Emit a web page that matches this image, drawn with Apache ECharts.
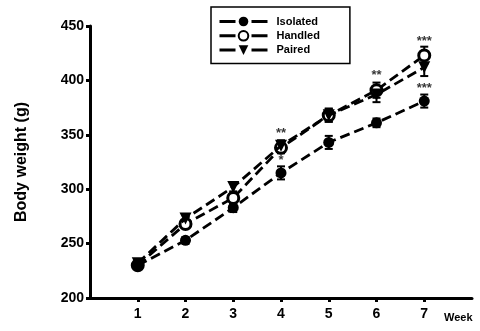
<!DOCTYPE html>
<html>
<head>
<meta charset="utf-8">
<script src="https://cdn.jsdelivr.net/npm/echarts@6/dist/echarts.min.js"></script>
<style>
  html, body { margin: 0; padding: 0; background: #fff; }
  #chart { width: 480px; height: 331px; }
</style>
</head>
<body>
<div id="chart"></div>
<script>
var weeks = [1, 2, 3, 4, 5, 6, 7];
var isolated = [230, 253, 283, 315, 343, 361, 381];
var isolatedErr = [3, 3, 4, 6, 6, 4, 6];
var handled = [230, 268, 292, 338, 368, 391, 423];
var handledErr = [3, 4, 5, 5, 6, 7, 8];
var paired = [232, 273, 302, 340, 368, 387, 412];
var pairedErr = [3, 4, 4, 5, 6, 7, 8];
var starWeeks = [4, 4, 6, 7, 7];
var starValues = [351, 326, 405, 436, 393];
var starTexts = ['**', '*', '**', '***', '***'];

var font = '"Liberation Sans", Arial, sans-serif';

function pairs(vals) {
  return weeks.map(function (w, i) { return [w, vals[i]]; });
}
function errData(vals, errs) {
  return weeks.map(function (w, i) { return [w, vals[i] - errs[i], vals[i] + errs[i]]; });
}
function errSeries(vals, errs) {
  return {
    type: 'custom',
    data: errData(vals, errs),
    z: 1,
    silent: true,
    renderItem: function (params, api) {
      var lo = api.coord([api.value(0), api.value(1)]);
      var hi = api.coord([api.value(0), api.value(2)]);
      var w = 4;
      var st = { stroke: '#000', lineWidth: 2 };
      return {
        type: 'group',
        children: [
          { type: 'line', shape: { x1: lo[0], y1: lo[1], x2: hi[0], y2: hi[1] }, style: st },
          { type: 'line', shape: { x1: lo[0] - w, y1: lo[1], x2: lo[0] + w, y2: lo[1] }, style: st },
          { type: 'line', shape: { x1: hi[0] - w, y1: hi[1], x2: hi[0] + w, y2: hi[1] }, style: st }
        ]
      };
    }
  };
}
function lineSeries(name, vals, symbol, fill, rotate, z) {
  return {
    name: name,
    type: 'line',
    data: pairs(vals),
    z: z,
    symbol: symbol,
    symbolSize: symbol === 'triangle' ? 12 : 11,
    symbolRotate: rotate || 0,
    showAllSymbol: true,
    lineStyle: { color: '#000', width: 2.8, type: [10, 5] },
    itemStyle: { color: fill, borderColor: '#000', borderWidth: fill === '#fff' ? 3 : 0 }
  };
}

var chart = echarts.init(document.getElementById('chart'), null, { renderer: 'canvas' });

var option = {
  animation: false,
  backgroundColor: '#fff',
  grid: { left: 90, right: 8, top: 26, bottom: 33 },
  legend: {
    orient: 'vertical',
    left: 211,
    top: 7,
    padding: [9, 30, 8, 7],
    itemGap: 3,
    itemWidth: 48,
    itemHeight: 12,
    borderColor: '#000',
    borderWidth: 1.5,
    lineStyle: { type: [16, 16], width: 3 },
    data: ['Isolated', 'Handled', 'Paired'],
    textStyle: { fontFamily: font, fontWeight: 'bold', fontSize: 11, color: '#000', padding: [0, 0, 0, 4] }
  },
  xAxis: {
    type: 'value',
    min: 0,
    max: 8,
    interval: 1,
    splitLine: { show: false },
    axisLine: { show: true, lineStyle: { color: '#000', width: 3 } },
    axisTick: { show: true, length: 4, lineStyle: { color: '#000', width: 3 }, customValues: weeks },
    axisLabel: { fontFamily: font, fontWeight: 'bold', fontSize: 14, color: '#000', margin: 9, customValues: weeks }
  },
  yAxis: {
    type: 'value',
    min: 200,
    max: 450,
    interval: 50,
    name: 'Body weight (g)',
    nameLocation: 'middle',
    nameGap: 60,
    nameTextStyle: { fontFamily: font, fontWeight: 'bold', fontSize: 16, color: '#000' },
    splitLine: { show: false },
    axisLine: { show: true, lineStyle: { color: '#000', width: 3 } },
    axisTick: { show: true, length: 4, lineStyle: { color: '#000', width: 3 } },
    axisLabel: { fontFamily: font, fontWeight: 'bold', fontSize: 14, color: '#000', margin: 6 }
  },
  graphic: [{
    type: 'text',
    left: 444,
    top: 312,
    style: { text: 'Week', fontFamily: font, fontWeight: 'bold', fontSize: 11, fill: '#000' }
  }],
  series: [
    errSeries(isolated, isolatedErr),
    errSeries(handled, handledErr),
    errSeries(paired, pairedErr),
    lineSeries('Handled', handled, 'circle', '#fff', 0, 3),
    lineSeries('Paired', paired, 'triangle', '#000', 180, 4),
    lineSeries('Isolated', isolated, 'circle', '#000', 0, 5),
    {
      type: 'scatter',
      silent: true,
      symbolSize: 1,
      itemStyle: { color: 'transparent' },
      data: starWeeks.map(function (w, i) { return [w, starValues[i], starTexts[i]]; }),
      label: {
        show: true,
        position: 'inside',
        formatter: function (p) { return p.value[2]; },
        fontFamily: font, fontWeight: 'bold', fontSize: 13, color: '#000'
      }
    }
  ]
};

chart.setOption(option);
</script>
</body>
</html>
